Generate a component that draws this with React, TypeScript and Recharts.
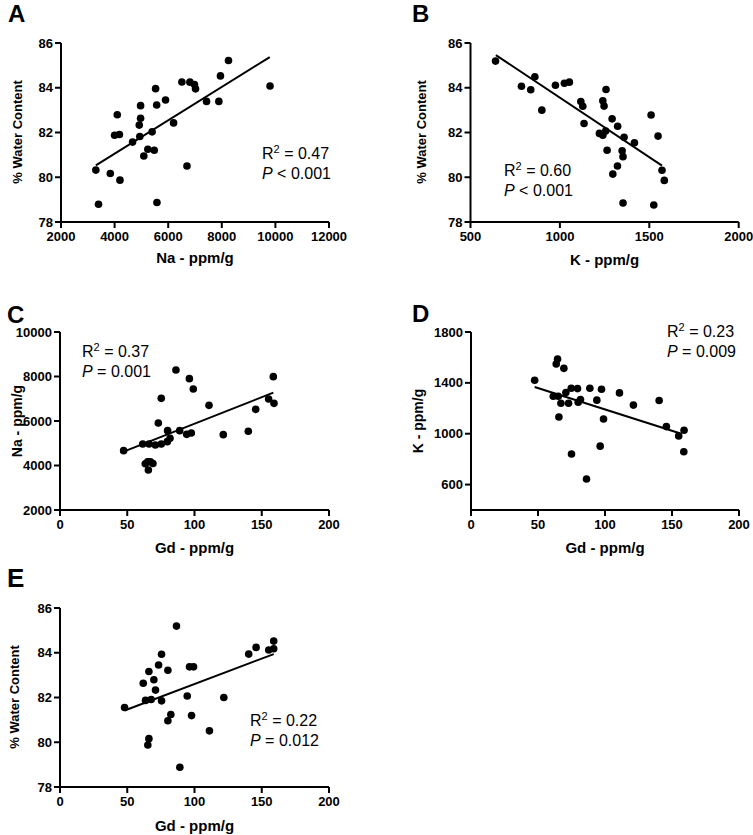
import React from 'react';
import { ScatterChart, Scatter, XAxis, YAxis, ReferenceLine } from 'recharts';

// Panel A: Na vs % water content
const naA = [3300, 3400, 3840, 4200, 4100, 4000, 4180, 4670, 4970, 4970, 4920, 4940, 5090, 5240, 5400, 5480, 5530, 5570, 5580, 5900, 6200, 6510, 6700, 6810, 6980, 7020, 7430, 7890, 7950, 8250, 9800];
const waterA = [80.32, 78.79, 80.17, 79.87, 82.79, 81.88, 81.91, 81.57, 83.2, 82.64, 82.33, 81.82, 80.95, 81.25, 82.03, 81.21, 83.96, 83.23, 78.87, 83.45, 82.43, 84.26, 80.5, 84.25, 84.14, 83.95, 83.39, 83.39, 84.53, 85.22, 84.08];
const fitA = [{ x: 3300, y: 80.53 }, { x: 9790, y: 85.37 }];

// Panel B: K vs % water content
const kB = [640, 785, 837, 860, 899, 975, 1025, 1053, 1117, 1128, 1135, 1221, 1240, 1247, 1258, 1240, 1256, 1264, 1292, 1296, 1322, 1323, 1348, 1353, 1359, 1353, 1417, 1510, 1525, 1549, 1571, 1584];
const waterB = [85.19, 84.07, 83.91, 84.49, 83.0, 84.11, 84.2, 84.25, 83.38, 83.17, 82.4, 81.96, 83.42, 83.18, 83.92, 81.88, 82.07, 81.21, 82.61, 80.14, 80.5, 82.28, 81.18, 80.92, 81.79, 78.85, 81.54, 82.78, 78.76, 81.84, 80.31, 79.86];
const fitB = [{ x: 642, y: 85.46 }, { x: 1571, y: 80.52 }];

// Panel C: Gd vs Na
const gdC = [47.3, 61.5, 66.2, 70.9, 75.3, 63.4, 65.2, 67.2, 69.1, 65.7, 73.1, 75.3, 80.0, 79.8, 81.8, 86.2, 89.0, 94.2, 97.6, 96.2, 99.1, 110.8, 121.4, 140.0, 145.5, 155.1, 158.6, 159.1];
const naC = [4667, 4966, 4966, 4921, 4966, 4082, 4169, 4169, 4090, 3798, 5910, 7019, 5566, 5073, 5221, 8292, 5566, 5400, 5461, 7903, 7438, 6704, 5386, 5536, 6524, 6989, 7993, 6794];
const fitC = [{ x: 47.3, y: 4622 }, { x: 158.6, y: 7273 }];

// Panel D: Gd vs K
const gdD = [47.5, 61.4, 64.6, 63.6, 65.1, 65.6, 67.1, 69.3, 70.8, 72.8, 74.8, 75.0, 79.5, 80.0, 81.7, 86.2, 88.7, 93.9, 96.4, 97.4, 98.9, 110.8, 121.2, 140.4, 145.8, 155.0, 159.0, 158.8];
const kD = [1420, 1295, 1587, 1548, 1295, 1131, 1240, 1514, 1324, 1240, 1358, 840, 1355, 1248, 1269, 644, 1358, 1264, 902, 1350, 1116, 1321, 1225, 1261, 1056, 983, 1027, 858];
const fitD = [{ x: 47.5, y: 1368 }, { x: 155.8, y: 1004 }];

// Panel E: Gd vs % water content
const gdE = [48.0, 61.9, 63.6, 66.1, 66.1, 65.3, 67.8, 69.8, 71.0, 73.3, 75.5, 75.5, 80.2, 80.2, 82.4, 86.6, 89.1, 94.6, 96.3, 99.3, 97.8, 111.1, 121.8, 140.3, 145.8, 155.2, 158.9, 158.9];
const waterE = [81.55, 82.64, 81.87, 83.16, 80.16, 79.88, 81.91, 82.79, 82.33, 83.45, 83.93, 81.85, 83.22, 80.96, 81.24, 85.19, 78.88, 82.07, 83.37, 83.37, 81.19, 80.51, 82.0, 83.94, 84.24, 84.12, 84.52, 84.18];
const fitE = [{ x: 48, y: 81.42 }, { x: 158.9, y: 83.94 }];

const waterTicks = [78, 80, 82, 84, 86];
const gdTicks = [0, 50, 100, 150, 200];

const toPoints = (xs: number[], ys: number[]) => xs.map((x, i) => ({ x, y: ys[i] }));

const FONT = '"Liberation Sans", Arial, Helvetica, sans-serif';

const Dot = (p: any) => <circle cx={p.cx} cy={p.cy} r={3.8} fill="#000" />;

interface PanelProps {
  left: number;
  top: number;
  width: number;
  height: number;
  plot: [number, number, number, number]; // x0, y0, x1, y1 in chart coords
  xs: number[];
  ys: number[];
  fit: { x: number; y: number }[];
  xDomain: [number, number];
  yDomain: [number, number];
  xTicks: number[];
  yTicks: number[];
  letter: string;
  letterPos: [number, number];
  letterSize?: number;
  xTitle: string;
  xTitleY: number;
  yTitle: string;
  yTitlePos: [number, number];
  yTitleSize?: number;
  r2: string;
  p: string;
  statsPos: [number, number];
}

const Panel = (props: PanelProps) => {
  const { left, top, width, height, plot } = props;
  const [x0, y0, x1, y1] = plot;
  const axisStyle = { stroke: '#000', strokeWidth: 2 };
  const tickStyle = { fill: '#000', fontSize: 13, fontWeight: 700, fontFamily: FONT };
  const [sx, sy] = props.statsPos;
  const [tx, ty] = props.yTitlePos;
  return (
    <div style={{ position: 'absolute', left, top }}>
      <ScatterChart width={width} height={height} margin={{ top: y0, right: width - x1, bottom: 0, left: 0 }}>
        <XAxis
          type="number"
          dataKey="x"
          domain={props.xDomain}
          ticks={props.xTicks}
          interval={0}
          height={height - y1}
          tickSize={6}
          tickMargin={4}
          axisLine={axisStyle}
          tickLine={axisStyle}
          tick={tickStyle}
        />
        <YAxis
          type="number"
          dataKey="y"
          domain={props.yDomain}
          ticks={props.yTicks}
          interval={0}
          width={x0}
          tickSize={6}
          tickMargin={2}
          axisLine={axisStyle}
          tickLine={axisStyle}
          tick={tickStyle}
        />
        <ReferenceLine segment={props.fit} stroke="#000" strokeWidth={2} />
        <Scatter data={toPoints(props.xs, props.ys)} shape={Dot} isAnimationActive={false} />
        <text x={props.letterPos[0]} y={props.letterPos[1]} fontSize={props.letterSize ?? 24} fontWeight={700} fontFamily={FONT} fill="#000">
          {props.letter}
        </text>
        <text x={(x0 + x1) / 2} y={props.xTitleY} textAnchor="middle" fontSize={15} fontWeight={700} fontFamily={FONT} fill="#000">
          {props.xTitle}
        </text>
        <text
          x={tx}
          y={ty}
          transform={`rotate(-90 ${tx} ${ty})`}
          textAnchor="middle"
          dominantBaseline="central"
          fontSize={props.yTitleSize ?? 14}
          fontWeight={700}
          fontFamily={FONT}
          fill="#000"
        >
          {props.yTitle}
        </text>
        <text x={sx} y={sy} fontSize={16} fontFamily={FONT} fill="#000">
          <tspan>R</tspan>
          <tspan dy={-6} fontSize={11}>2</tspan>
          <tspan dy={6}>{` = ${props.r2}`}</tspan>
        </text>
        <text x={sx} y={sy + 20} fontSize={16} fontFamily={FONT} fill="#000">
          <tspan fontStyle="italic">P</tspan>
          <tspan>{` ${props.p}`}</tspan>
        </text>
      </ScatterChart>
    </div>
  );
};

export default function App() {
  return (
    <div style={{ position: 'absolute', left: 0, top: 0, width: 753, height: 835, background: '#fff' }}>
      <Panel
        left={0} top={0} width={376} height={270} plot={[61, 43, 329, 222]}
        xs={naA} ys={waterA} fit={fitA}
        xDomain={[2000, 12000]} yDomain={[78, 86]}
        xTicks={[2000, 4000, 6000, 8000, 10000, 12000]} yTicks={waterTicks}
        letter="A" letterPos={[8, 22]}
        xTitle="Na - ppm/g" xTitleY={263}
        yTitle="% Water Content" yTitlePos={[17, 132]} yTitleSize={13}
        r2="0.47" p="< 0.001" statsPos={[262, 159]}
      />
      <Panel
        left={376} top={0} width={377} height={270} plot={[94.5, 43, 362.7, 222]}
        xs={kB} ys={waterB} fit={fitB}
        xDomain={[500, 2000]} yDomain={[78, 86]}
        xTicks={[500, 1000, 1500, 2000]} yTicks={waterTicks}
        letter="B" letterPos={[36, 22]}
        xTitle="K - ppm/g" xTitleY={265}
        yTitle="% Water Content" yTitlePos={[45, 132]} yTitleSize={13}
        r2="0.60" p="< 0.001" statsPos={[128, 176]}
      />
      <Panel
        left={0} top={270} width={376} height={290} plot={[60, 62, 329, 240]}
        xs={gdC} ys={naC} fit={fitC}
        xDomain={[0, 200]} yDomain={[2000, 10000]}
        xTicks={gdTicks} yTicks={[2000, 4000, 6000, 8000, 10000]}
        letter="C" letterPos={[7, 53]}
        xTitle="Gd - ppm/g" xTitleY={283}
        yTitle="Na - ppm/g" yTitlePos={[17, 151]}
        r2="0.37" p="= 0.001" statsPos={[82, 87]}
      />
      <Panel
        left={376} top={270} width={377} height={290} plot={[95, 62, 363, 240]}
        xs={gdD} ys={kD} fit={fitD}
        xDomain={[0, 200]} yDomain={[400, 1800]}
        xTicks={gdTicks} yTicks={[600, 1000, 1400, 1800]}
        letter="D" letterPos={[36, 52]}
        xTitle="Gd - ppm/g" xTitleY={283}
        yTitle="K - ppm/g" yTitlePos={[42, 151]}
        r2="0.23" p="= 0.009" statsPos={[291, 67]}
      />
      <Panel
        left={0} top={550} width={376} height={285} plot={[60, 58, 329, 237]}
        xs={gdE} ys={waterE} fit={fitE}
        xDomain={[0, 200]} yDomain={[78, 86]}
        xTicks={gdTicks} yTicks={waterTicks}
        letter="E" letterPos={[7, 37]} letterSize={26}
        xTitle="Gd - ppm/g" xTitleY={281}
        yTitle="% Water Content" yTitlePos={[14, 147]} yTitleSize={13}
        r2="0.22" p="= 0.012" statsPos={[250, 176]}
      />
    </div>
  );
}
